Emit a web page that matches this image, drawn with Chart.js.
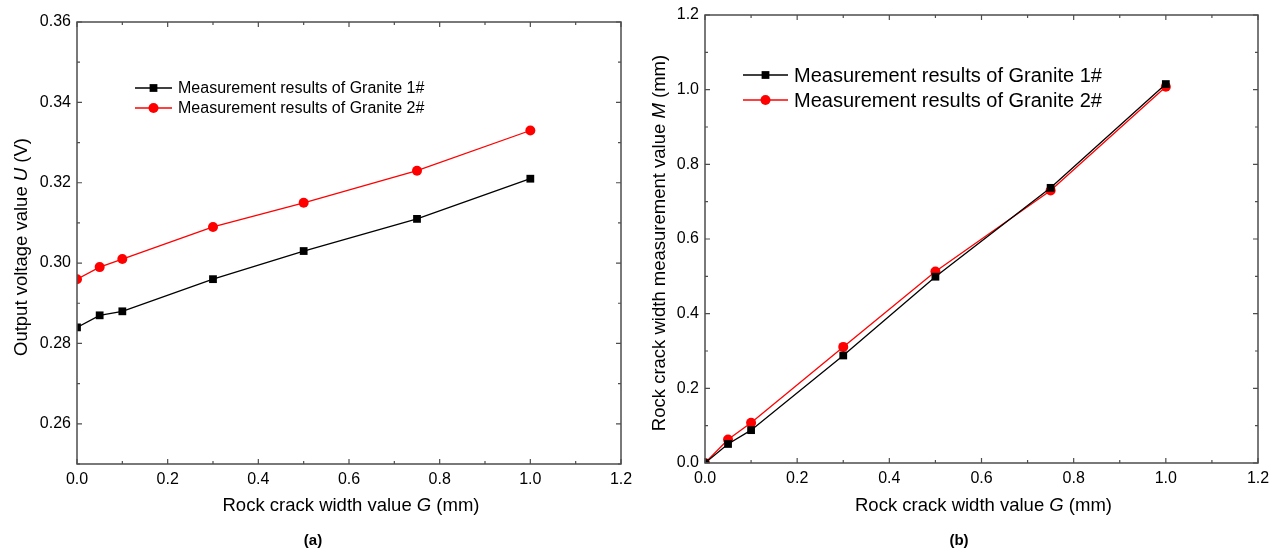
<!DOCTYPE html>
<html>
<head>
<meta charset="utf-8">
<script src="https://cdn.jsdelivr.net/npm/chart.js@4/dist/chart.umd.min.js"></script>
<style>
    html, body { margin: 0; padding: 0; background: #fff; }
    #wrap { position: relative; width: 1270px; height: 550px; font-family: "Liberation Sans", Arial, sans-serif; }
    canvas { position: absolute; top: 0; }
    .cap { position: absolute; top: 531px; font-weight: bold; font-size: 15px; transform: translateX(-50%); color: #000; }
</style>
</head>
<body>
<div id="wrap">
    <canvas id="chartA" width="640" height="550" style="left:0"></canvas>
    <canvas id="chartB" width="630" height="550" style="left:640px"></canvas>
    <div class="cap" style="left:313px">(a)</div>
    <div class="cap" style="left:959px">(b)</div>
</div>
<script>
const crackWidth = [0, 0.05, 0.1, 0.3, 0.5, 0.75, 1.0];
const voltageGranite1 = [0.284, 0.287, 0.288, 0.296, 0.303, 0.311, 0.321];
const voltageGranite2 = [0.296, 0.299, 0.301, 0.309, 0.315, 0.323, 0.333];
const measuredGranite1 = [0, 0.051, 0.088, 0.288, 0.499, 0.737, 1.015];
const measuredGranite2 = [0, 0.063, 0.108, 0.311, 0.513, 0.730, 1.008];
const xTicks = [0, 0.2, 0.4, 0.6, 0.8, 1.0, 1.2];
const voltageTicks = [0.26, 0.28, 0.30, 0.32, 0.34, 0.36];
const measuredTicks = [0, 0.2, 0.4, 0.6, 0.8, 1.0, 1.2];
const seriesLabels = ['Measurement results of Granite 1#', 'Measurement results of Granite 2#'];

const FONT = '"Liberation Sans", Arial, sans-serif';
const AXIS_COLOR = '#4d4d4d';

// frame + inward ticks on all four sides (Origin style)
const framePlugin = {
    id: 'frame',
    afterDraw(chart) {
        const { ctx, chartArea: a, scales } = chart;
        ctx.save();
        ctx.strokeStyle = AXIS_COLOR;
        ctx.lineWidth = 1.5;
        ctx.strokeRect(a.left, a.top, a.right - a.left, a.bottom - a.top);
        ctx.lineWidth = 1.2;
        const drawTicks = (scale, values, len) => {
            values.forEach(v => {
                const p = scale.getPixelForValue(v);
                ctx.beginPath();
                if (scale.isHorizontal()) {
                    if (p < a.left - 0.5 || p > a.right + 0.5) return;
                    ctx.moveTo(p, a.bottom); ctx.lineTo(p, a.bottom - len);
                    ctx.moveTo(p, a.top); ctx.lineTo(p, a.top + len);
                } else {
                    if (p < a.top - 0.5 || p > a.bottom + 0.5) return;
                    ctx.moveTo(a.left, p); ctx.lineTo(a.left + len, p);
                    ctx.moveTo(a.right, p); ctx.lineTo(a.right - len, p);
                }
                ctx.stroke();
            });
        };
        [scales.x, scales.y].forEach(scale => {
            const major = scale.ticks.map(t => t.value);
            const step = major[1] - major[0];
            const minor = major.map(v => v - step / 2).filter(v => v >= scale.min - 1e-9);
            drawTicks(scale, major, 5);
            drawTicks(scale, minor, 3);
        });
        ctx.restore();
    }
};

// axis titles with an italic symbol
const titlePlugin = {
    id: 'axisTitles',
    afterDraw(chart, args, opts) {
        const { ctx, chartArea: a } = chart;
        const drawParts = (parts, cx, cy, rotate) => {
            ctx.save();
            ctx.translate(cx, cy);
            if (rotate) ctx.rotate(-Math.PI / 2);
            ctx.fillStyle = '#000';
            ctx.textBaseline = 'middle';
            ctx.textAlign = 'left';
            const fontOf = it => (it ? 'italic ' : '') + opts.size + 'px ' + FONT;
            let total = 0;
            parts.forEach(([t, it]) => { ctx.font = fontOf(it); total += ctx.measureText(t).width; });
            let x = -total / 2;
            parts.forEach(([t, it]) => { ctx.font = fontOf(it); ctx.fillText(t, x, 0); x += ctx.measureText(t).width; });
            ctx.restore();
        };
        drawParts(opts.x, (a.left + a.right) / 2 + 2, opts.xTitleY, false);
        drawParts(opts.y, opts.yTitleX, (a.top + a.bottom) / 2 + 4, true);
    }
};

// legend inside the plot: line + marker sample
const innerLegend = {
    id: 'innerLegend',
    afterDraw(chart, args, opts) {
        const { ctx } = chart;
        ctx.save();
        chart.data.datasets.forEach((ds, i) => {
            const y = opts.y + i * opts.gap;
            ctx.strokeStyle = ds.borderColor;
            ctx.lineWidth = ds.borderWidth;
            ctx.beginPath();
            ctx.moveTo(opts.x, y);
            ctx.lineTo(opts.x + opts.lineLen, y);
            ctx.stroke();
            ctx.fillStyle = ds.pointBackgroundColor;
            ctx.strokeStyle = ds.pointBorderColor;
            Chart.helpers.drawPoint(ctx, { pointStyle: ds.pointStyle, radius: ds.pointRadius, rotation: 0, borderWidth: 0 }, opts.x + opts.lineLen / 2, y);
            ctx.fillStyle = '#000';
            ctx.font = opts.size + 'px ' + FONT;
            ctx.textBaseline = 'middle';
            ctx.fillText(ds.label, opts.x + opts.lineLen + 6, y + 1);
        });
        ctx.restore();
    }
};

function series(xs, ys) {
    return xs.map((x, i) => ({ x: x, y: ys[i] }));
}

function buildChart(id, box, ys1, ys2, yTicks, yMin, yMax, yDigits, titles, legend) {
    const canvas = document.getElementById(id);
    const W = canvas.width, H = canvas.height;
    return new Chart(canvas.getContext('2d'), {
        type: 'line',
        data: {
            datasets: [{
                label: seriesLabels[0],
                data: series(crackWidth, ys1),
                borderColor: '#000',
                borderWidth: 1.3,
                pointStyle: 'rect',
                pointRadius: 5.5,
                pointBackgroundColor: '#000',
                pointBorderColor: '#000',
                pointBorderWidth: 0
            }, {
                label: seriesLabels[1],
                data: series(crackWidth, ys2),
                borderColor: '#ff0000',
                borderWidth: 1.3,
                pointStyle: 'circle',
                pointRadius: 5,
                pointBackgroundColor: '#ff0000',
                pointBorderColor: '#ff0000',
                pointBorderWidth: 0
            }]
        },
        options: {
            responsive: false,
            animation: false,
            layout: { padding: { left: 0, right: W - box.right, top: box.top, bottom: 0 } },
            scales: {
                x: {
                    type: 'linear', min: 0, max: 1.2,
                    grid: { display: false, drawTicks: false },
                    border: { display: false },
                    afterBuildTicks: s => { s.ticks = xTicks.map(v => ({ value: v })); },
                    afterFit: s => { s.height = H - box.bottom; s.paddingLeft = 0; s.paddingRight = 0; },
                    ticks: { padding: 6, color: '#000', font: { family: FONT, size: 16 }, callback: v => v.toFixed(1), maxRotation: 0 }
                },
                y: {
                    type: 'linear', min: yMin, max: yMax,
                    grid: { display: false, drawTicks: false },
                    border: { display: false },
                    afterBuildTicks: s => { s.ticks = yTicks.map(v => ({ value: v })); },
                    afterFit: s => { s.width = box.left; s.paddingTop = 0; s.paddingBottom = 0; },
                    ticks: { padding: 6, color: '#000', font: { family: FONT, size: 16 }, callback: v => v.toFixed(yDigits) }
                }
            },
            plugins: {
                legend: { display: false },
                tooltip: { enabled: false },
                axisTitles: titles,
                innerLegend: legend
            }
        },
        plugins: [framePlugin, titlePlugin, innerLegend]
    });
}

buildChart('chartA', { left: 77, right: 621, top: 22, bottom: 464 },
    voltageGranite1, voltageGranite2, voltageTicks, 0.25, 0.36, 2,
    {
        size: 18.5, xTitleY: 506, yTitleX: 22,
        x: [['Rock crack width value ', false], ['G', true], [' (mm)', false]],
        y: [['Output voltage value ', false], ['U', true], [' (V)', false]]
    },
    { x: 135, y: 88, gap: 20, lineLen: 37, size: 16 });

buildChart('chartB', { left: 65, right: 618, top: 15, bottom: 463 },
    measuredGranite1, measuredGranite2, measuredTicks, 0, 1.2, 1,
    {
        size: 18.5, xTitleY: 506, yTitleX: 20,
        x: [['Rock crack width value ', false], ['G', true], [' (mm)', false]],
        y: [['Rock crack width measurement value ', false], ['M', true], [' (mm)', false]]
    },
    { x: 103, y: 75, gap: 25, lineLen: 45, size: 20 });
</script>
</body>
</html>
